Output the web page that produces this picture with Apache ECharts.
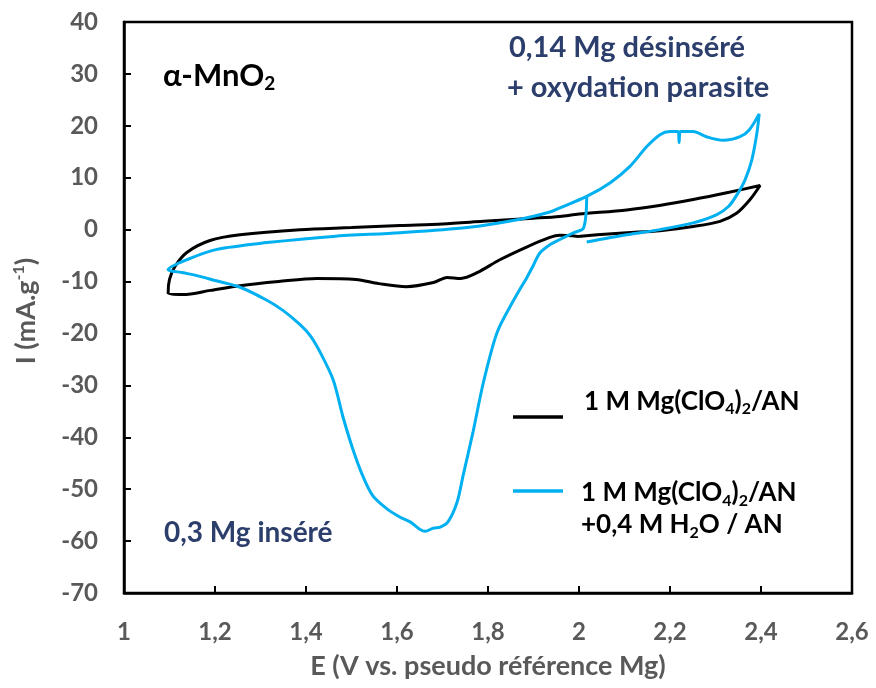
<!DOCTYPE html>
<html>
<head>
<meta charset="utf-8">
<script src="https://cdn.jsdelivr.net/npm/echarts@6/dist/echarts.min.js"></script>
<style>html,body{margin:0;padding:0;background:#fff}#c{width:876px;height:688px}</style>
</head>
<body>
<div id="c"></div>
<script>
// ---- Data (E in V, I in mA/g) ----
const blackE = [1.998,1.958,1.936,1.886,1.826,1.776,1.74,1.71,1.68,1.62,1.56,1.51,1.424,1.34,1.255,1.19,1.13,1.097,
  1.1,1.112,1.138,1.189,1.255,1.387,1.5,1.607,1.7,1.79,1.9,1.958,2.0,2.105,2.18,2.251,2.33,2.398,
  2.376,2.347,2.31,2.251,2.178,2.105,2.04,1.998];
const blackI = [-1.3,-1.1,-1.5,-3.3,-5.8,-8.3,-9.4,-9.2,-10.2,-11,-10.4,-9.6,-9.4,-10,-10.8,-11.7,-12.5,-12.2,
  -9.6,-7.1,-4.4,-2.1,-1.0,0,0.4,0.8,1.1,1.6,2.2,2.55,3.0,3.8,4.7,5.8,7.2,8.5,
  5.8,3.2,1.6,0.6,-0.2,-0.6,-1.0,-1.3];

const blueE = [2.017,2.01,1.988,1.958,1.936,1.914,1.899,1.885,1.87,1.855,1.82,1.79,1.767,1.745,1.732,1.712,1.695,1.68,1.662,1.65,1.629,1.607,1.578,1.547,1.525,1.503,1.481,1.46,1.431,1.41,1.387,1.35,1.314,1.255,1.2,1.167,1.13,1.097,
  1.138,1.204,1.314,1.46,1.607,1.754,1.864,1.936,1.958,2.017,2.068,2.112,2.149,2.178,2.2,2.218,2.22,2.223,2.251,2.28,2.317,2.354,2.374,2.396,
  2.391,2.38,2.365,2.347,2.329,2.303,2.251,2.178,2.105,2.017];
const blueI = [6.4,0.3,-0.6,-1.9,-2.9,-4.5,-7.0,-9.3,-11.5,-13.8,-19.8,-29.4,-39,-47.5,-52.5,-56.3,-57.3,-57.5,-58.1,-57.7,-56.3,-55.4,-53.8,-51.3,-47.5,-42.3,-36,-29.0,-23.6,-20.5,-18.3,-15.6,-13.6,-11.1,-9.8,-9.0,-8.3,-7.7,
  -5.8,-3.8,-2.5,-1.3,-0.6,0.4,1.9,3.4,4.2,6.4,9.0,12.2,16.0,18.3,18.9,18.9,16.8,18.9,18.9,17.9,17.2,17.9,19.2,22.3,
  18.6,13.5,9.6,6.7,4.5,2.9,1.3,0,-1.0,-2.4];

const xMin = 1, xMax = 2.6, xStep = 0.2;
const yMin = -70, yMax = 40, yStep = 10;

const seriesNames = ['1 M Mg(ClO4)2/AN', '1 M Mg(ClO4)2/AN +0,4 M H2O / AN'];
const annoTitle = 'α-MnO';
const annoOx = ['0,14 Mg désinséré', '+ oxydation parasite'];
const annoRed = '0,3 Mg inséré';
const xTitle = 'E (V vs. pseudo référence Mg)';

const pair = (xs, ys) => xs.map((x, i) => [x, ys[i]]);
const FONT = 'Lato';
const GRAY = '#595959';
const NAVY = '#2c3e6b';
const BLUE = '#00b0f0';

const txt = (size, color, extra) => Object.assign({ fontSize: size, fontWeight: 'bold', fontFamily: FONT, fill: color }, extra || {});

const chart = echarts.init(document.getElementById('c'));
const axisCommon = {
  axisLine: { show: true, onZero: false, lineStyle: { color: '#000', width: 2.5 } },
  axisTick: { show: true, inside: true, length: 7, lineStyle: { color: '#000', width: 2 } },
  splitLine: { show: false },
  axisLabel: { color: GRAY, fontFamily: FONT, fontWeight: 'bold', fontSize: 24 }
};
chart.setOption({
  animation: false,
  backgroundColor: '#fff',
  grid: { left: 124, top: 22, width: 728, height: 571, show: true, borderColor: '#000', borderWidth: 2.5 },
  xAxis: Object.assign({}, axisCommon, {
    type: 'value', min: xMin, max: xMax, interval: xStep,
    axisLabel: Object.assign({}, axisCommon.axisLabel, {
      margin: 27,
      formatter: v => String(+v.toFixed(1)).replace('.', ',')
    }),
    name: xTitle, nameLocation: 'middle', nameGap: 60,
    nameTextStyle: { color: GRAY, fontFamily: FONT, fontWeight: 'bold', fontSize: 27 }
  }),
  yAxis: Object.assign({}, axisCommon, {
    type: 'value', min: yMin, max: yMax, interval: yStep,
    axisLabel: Object.assign({}, axisCommon.axisLabel, { margin: 26 })
  }),
  series: [
    { type: 'line', name: seriesNames[0], data: pair(blackE, blackI), showSymbol: false, smooth: 0.3,
      lineStyle: { color: '#000', width: 3 }, z: 2 },
    { type: 'line', name: seriesNames[1], data: pair(blueE, blueI), showSymbol: false, smooth: 0.3,
      lineStyle: { color: BLUE, width: 3 }, z: 3 }
  ],
  graphic: [
    { type: 'text', x: 26, y: 311, rotation: Math.PI / 2, style: {
        text: '{m|I (mA.g}{s|-1}{m|)}', align: 'center', verticalAlign: 'middle',
        rich: { m: txt(27, GRAY, { lineHeight: 30 }), s: txt(16, GRAY, { lineHeight: 16, verticalAlign: 'top' }) } } },
    { type: 'text', x: 163, y: 76, style: {
        text: '{m|' + annoTitle + '}{s|2}', verticalAlign: 'middle',
        rich: { m: txt(31, '#000', { lineHeight: 34 }), s: txt(19, '#000', { lineHeight: 19, verticalAlign: 'bottom' }) } } },
    { type: 'text', x: 509, y: 48, style: Object.assign({ text: annoOx[0], verticalAlign: 'middle' }, txt(29, NAVY)) },
    { type: 'text', x: 507, y: 88, style: Object.assign({ text: annoOx[1], verticalAlign: 'middle' }, txt(29, NAVY)) },
    { type: 'text', x: 164, y: 533, style: Object.assign({ text: annoRed, verticalAlign: 'middle' }, txt(28, NAVY)) },
    { type: 'line', shape: { x1: 513, y1: 417, x2: 563, y2: 417 }, style: { stroke: '#000', lineWidth: 3.5 } },
    { type: 'line', shape: { x1: 513, y1: 491, x2: 563, y2: 491 }, style: { stroke: BLUE, lineWidth: 3.5 } },
    { type: 'text', x: 584, y: 402, style: {
        text: '{m|1 M Mg(ClO}{s|4}{m|)}{s|2}{m|/AN}', verticalAlign: 'middle',
        rich: { m: txt(26, '#000', { lineHeight: 30 }), s: txt(16, '#000', { lineHeight: 16, verticalAlign: 'bottom' }) } } },
    { type: 'text', x: 581, y: 509, style: {
        text: '{m|1 M Mg(ClO}{s|4}{m|)}{s|2}{m|/AN}\n{m|+0,4 M H}{s|2}{m|O / AN}', verticalAlign: 'middle',
        rich: { m: txt(26, '#000', { lineHeight: 32 }), s: txt(16, '#000', { lineHeight: 16, verticalAlign: 'bottom' }) } } }
  ]
});
</script>
</body>
</html>
